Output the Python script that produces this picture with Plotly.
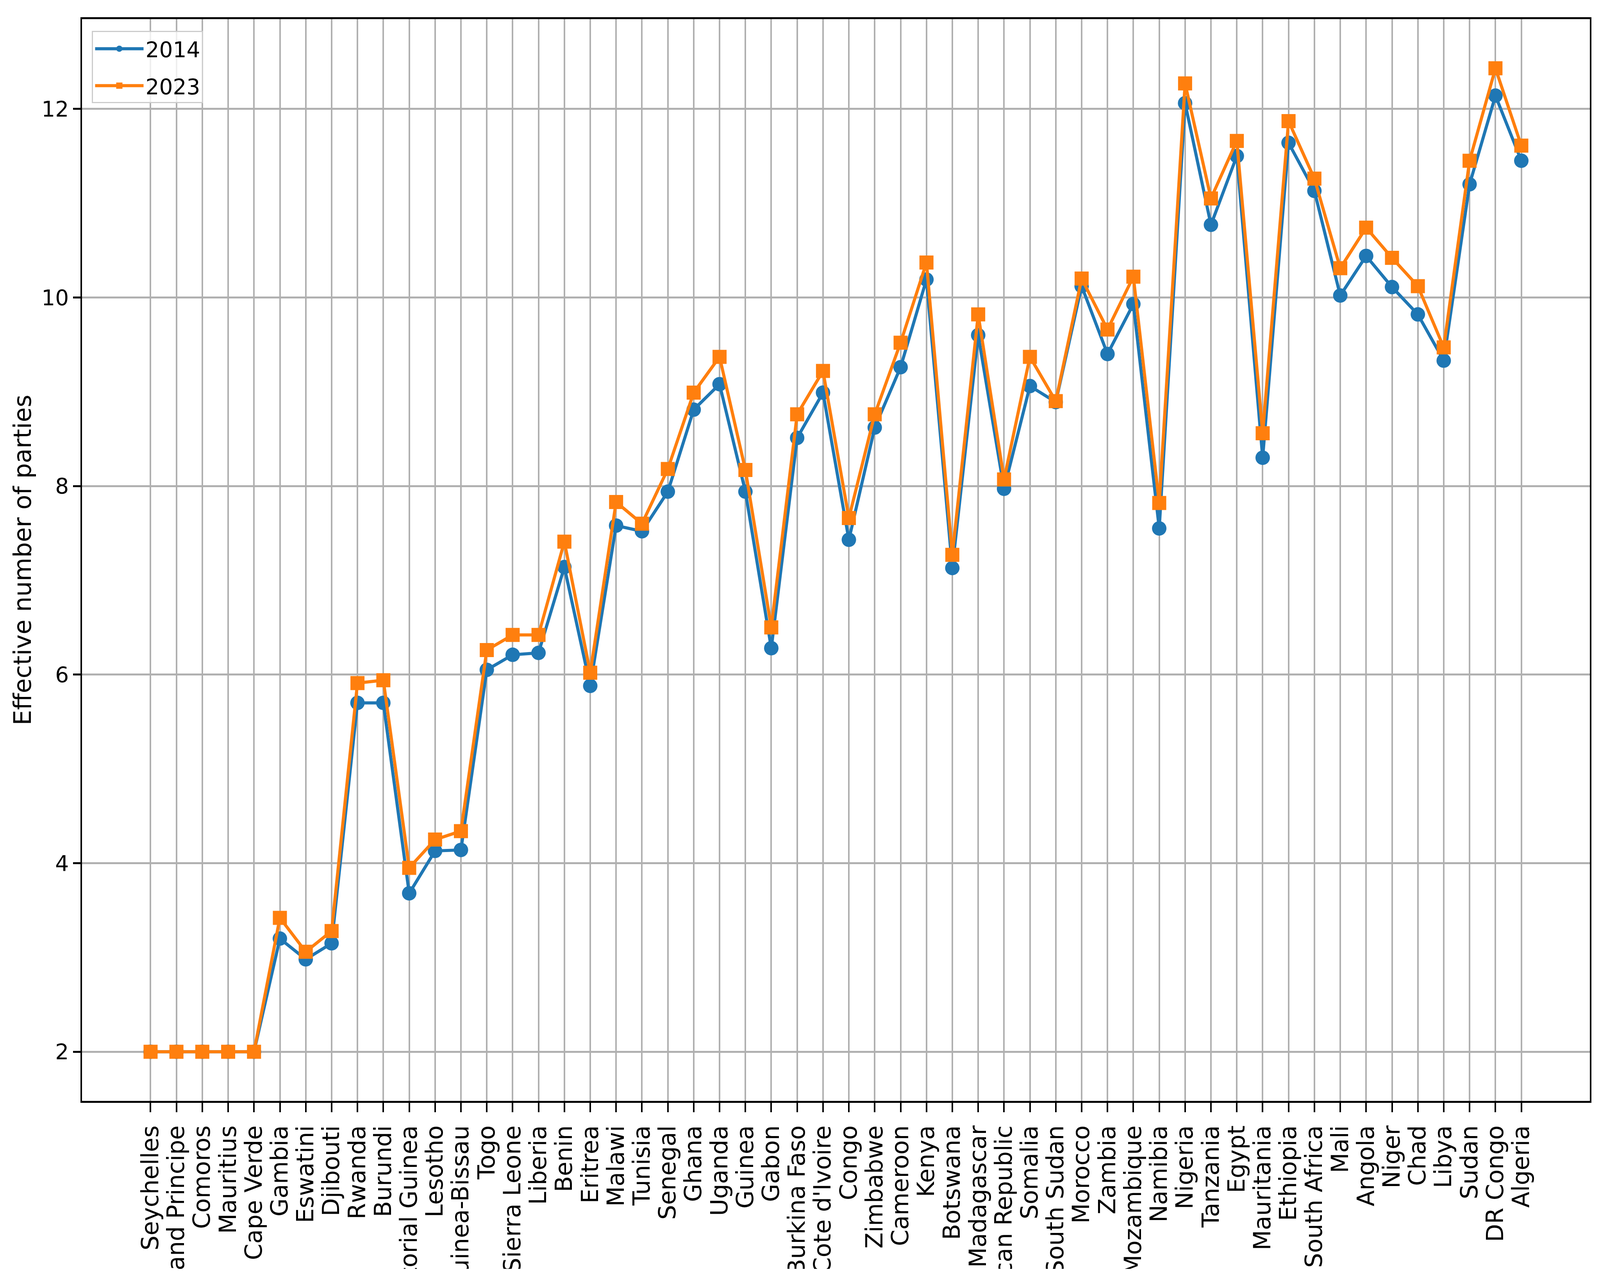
import plotly.graph_objects as go

countries = [
    "Seychelles", "Sao Tome and Principe", "Comoros", "Mauritius", "Cape Verde",
    "Gambia", "Eswatini", "Djibouti", "Rwanda", "Burundi", "Equatorial Guinea",
    "Lesotho", "Guinea-Bissau", "Togo", "Sierra Leone", "Liberia", "Benin",
    "Eritrea", "Malawi", "Tunisia", "Senegal", "Ghana", "Uganda", "Guinea",
    "Gabon", "Burkina Faso", "Cote d'Ivoire", "Congo", "Zimbabwe", "Cameroon",
    "Kenya", "Botswana", "Madagascar", "Central African Republic", "Somalia",
    "South Sudan", "Morocco", "Zambia", "Mozambique", "Namibia", "Nigeria",
    "Tanzania", "Egypt", "Mauritania", "Ethiopia", "South Africa", "Mali",
    "Angola", "Niger", "Chad", "Libya", "Sudan", "DR Congo", "Algeria",
]

values_2014 = [
    2.0, 2.0, 2.0, 2.0, 2.0,
    3.20, 2.98, 3.15, 5.70, 5.70, 3.68,
    4.13, 4.14, 6.05, 6.21, 6.23, 7.14,
    5.88, 7.58, 7.52, 7.94, 8.81, 9.08, 7.94,
    6.28, 8.51, 8.99, 7.43, 8.62, 9.26,
    10.19, 7.13, 9.60, 7.97, 9.06,
    8.89, 10.12, 9.40, 9.93, 7.55, 12.06,
    10.77, 11.50, 8.30, 11.64, 11.13, 10.02,
    10.44, 10.11, 9.82, 9.33, 11.20, 12.14, 11.45,
]

values_2023 = [
    2.0, 2.0, 2.0, 2.0, 2.0,
    3.42, 3.06, 3.28, 5.91, 5.94, 3.95,
    4.25, 4.34, 6.26, 6.42, 6.42, 7.41,
    6.02, 7.83, 7.60, 8.18, 8.99, 9.37, 8.17,
    6.50, 8.76, 9.22, 7.66, 8.76, 9.52,
    10.37, 7.27, 9.82, 8.07, 9.37,
    8.90, 10.20, 9.66, 10.22, 7.82, 12.27,
    11.05, 11.66, 8.56, 11.87, 11.26, 10.31,
    10.74, 10.42, 10.12, 9.47, 11.45, 12.43, 11.61,
]

y_ticks = [2, 4, 6, 8, 10, 12]
series_names = ["2014", "2023"]

BLUE = "#1f77b4"
ORANGE = "#ff7f0e"
GRID = "#b0b0b0"
FONT = "DejaVu Sans"
FS_H = 55   # horizontal texts
FS_V = 60   # rotated texts

# margins (px) of the figure, which fills the browser window
ML, MR, MT, MB = 202, 18, 41, 430

fig = go.Figure()
fig.add_trace(go.Scatter(
    x=countries, y=values_2014, name=series_names[0], mode="lines+markers",
    line=dict(color=BLUE, width=8), legendgroup="a",
    marker=dict(symbol="circle", size=37, color=BLUE),
))
fig.add_trace(go.Scatter(
    x=countries, y=values_2023, name=series_names[1], mode="lines+markers",
    line=dict(color=ORANGE, width=8), legendgroup="b",
    marker=dict(symbol="square", size=36, color=ORANGE),
))

n = len(countries)
pad = 0.05 * (n - 1)
ymin, ymax = min(values_2014 + values_2023), max(values_2014 + values_2023)
ypad = 0.05 * (ymax - ymin)

fig.update_layout(
    autosize=True,
    margin=dict(l=ML, r=MR, t=MT, b=MB, autoexpand=False),
    paper_bgcolor="white", plot_bgcolor="white",
    font=dict(family=FONT, size=FS_H, color="black"),
    showlegend=True,
    legend=dict(
        x=0.0066, y=0.989, xanchor="left", yanchor="top",
        bgcolor="rgba(255,255,255,0.8)", bordercolor="#cccccc", borderwidth=3,
        font=dict(family=FONT, size=FS_H, color="black"),
        itemwidth=124, tracegroupgap=20,
    ),
    xaxis=dict(
        type="category", range=[-pad, n - 1 + pad],
        tickmode="array", tickvals=countries, ticktext=countries,
        tickangle=-90, automargin=False, ticklabelstandoff=10,
        showgrid=True, gridcolor=GRID, gridwidth=3.6,
        showline=True, linecolor="black", linewidth=4.5, mirror=True,
        ticks="outside", ticklen=24, tickwidth=3.6, tickcolor="black",
        tickfont=dict(family=FONT, size=FS_V, color="black"),
        zeroline=False,
    ),
    yaxis=dict(
        range=[ymin - ypad, ymax + ypad],
        tickmode="array", tickvals=y_ticks, ticktext=[str(v) for v in y_ticks],
        automargin=False,
        showgrid=True, gridcolor=GRID, gridwidth=4.5,
        showline=True, linecolor="black", linewidth=3.6, mirror=True,
        ticks="outside", ticklen=19, tickwidth=4.5, tickcolor="black",
        tickfont=dict(family=FONT, size=FS_H, color="black"),
        zeroline=False,
    ),
    annotations=[dict(
        text="Effective number of parties", xref="paper", yref="paper",
        x=-0.0394, y=0.5, xanchor="center", yanchor="middle",
        textangle=-90, showarrow=False,
        font=dict(family=FONT, size=62, color="black"),
    )],
)

fig.write_html(
    "out.html",
    default_width="calc(100vw - 16px)",
    default_height="calc(100vh - 16px)",
)
